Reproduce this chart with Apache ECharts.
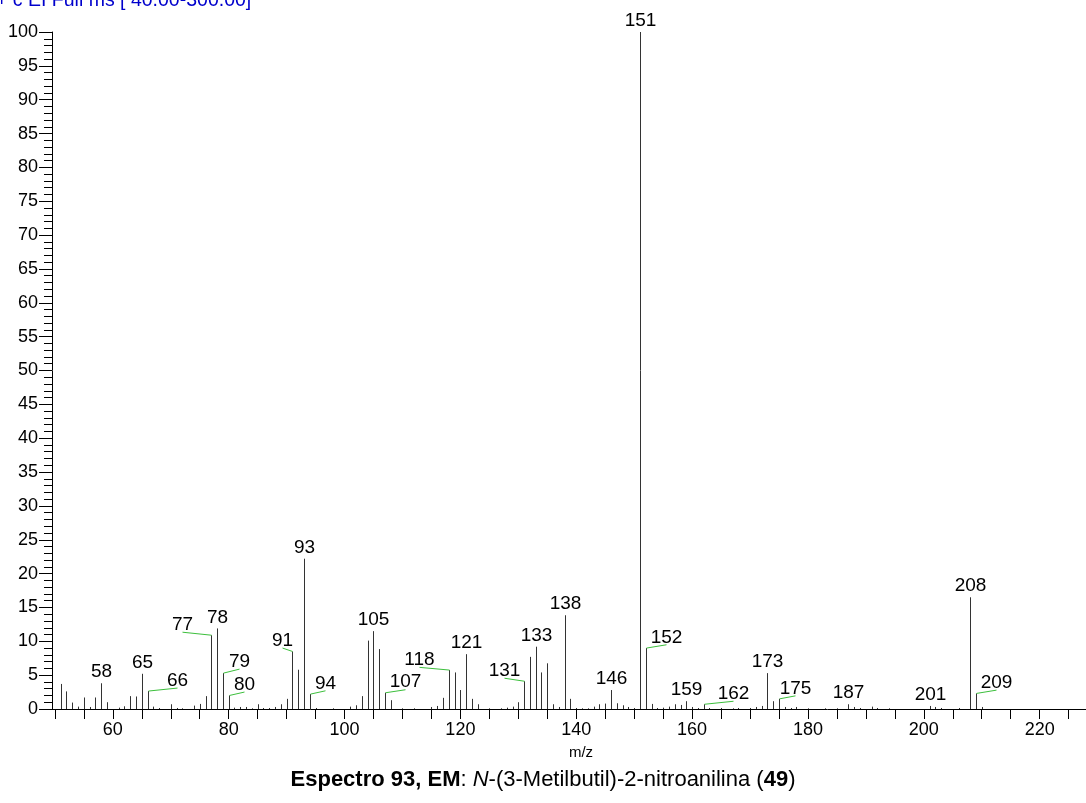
<!DOCTYPE html>
<html><head><meta charset="utf-8">
<script src="https://cdn.jsdelivr.net/npm/echarts@6/dist/echarts.min.js"></script>
<style>html,body{margin:0;padding:0;background:#fff;overflow:hidden}#c{width:1086px;height:803px}</style>
</head><body><div id="c"></div>
<script>
// m/z values and relative intensities (%)
const mzValues = [51,52,53,54,55,56,57,58,59,61,62,63,64,65,66,67,68,70,71,72,74,75,76,77,78,79,80,81,82,83,84,85,86,87,88,89,90,91,92,93,94,95,98,
  101,102,103,104,105,106,107,108,110,112,115,116,117,118,119,120,121,122,123,125,127,128,129,130,131,132,133,134,135,136,137,138,139,140,141,142,143,144,145,146,147,148,149,150,
  151,152,153,154,155,156,157,158,159,160,161,162,163,165,167,168,170,171,172,173,174,175,176,177,178,180,183,185,187,188,189,191,192,194,201,202,203,206,208,209,210];
const intensities = [3.7,2.6,0.95,0.35,1.7,0.3,1.7,3.8,1.0,0.2,0.4,1.9,1.85,5.2,2.65,0.35,0.15,0.7,0.15,0.1,0.5,0.75,1.9,10.9,11.9,5.3,2.0,0.2,0.3,0.3,0.1,0.7,0.15,0.15,0.3,0.7,1.5,8.5,5.8,22.2,2.2,0.15,0.1,
  0.35,0.55,1.9,10.1,11.5,8.85,2.4,1.3,0.1,0.1,0.3,0.45,1.65,5.75,5.4,2.8,8.1,1.5,0.7,0.1,0.1,0.2,0.35,1.0,4.1,7.7,9.2,5.4,6.75,0.7,0.3,13.85,1.5,0.15,0.1,0.1,0.35,0.7,0.8,2.8,0.85,0.55,0.3,0.15,
  100,9.0,0.75,0.15,0.2,0.35,0.7,0.6,1.15,0.3,0.15,0.7,0.15,0.15,0.1,0.15,0.15,0.3,0.45,5.3,1.15,1.5,0.3,0.15,0.3,0.1,0.1,0.1,0.7,0.3,0.15,0.35,0.15,0.1,0.45,0.3,0.15,0.15,16.5,2.3,0.3];
const labeledPeaks = [58,65,66,77,78,79,80,91,93,94,105,107,118,121,131,133,138,146,151,152,159,162,173,175,187,201,208,209];
const xTickValues = [50,55,60,65,70,75,80,85,90,95,100,105,110,115,120,125,130,135,140,145,150,155,160,165,170,175,180,185,190,195,200,205,210,215,220,225];
const xLabelValues = [60,80,100,120,140,160,180,200,220];

// label displacement (pixels) for labels drawn with a leader line
const leaderOffsets = {66:[29,-3],77:[-29,-3],79:[16,-4],80:[15,-3.4],91:[-10,-3.4],94:[15,-3.3],107:[20,-3],
  118:[-30,-2.7],131:[-20,-3],152:[20,-3.3],162:[29,-3],175:[16,-3],209:[20,-3.3]};

const FONT = '"Liberation Sans", Arial, sans-serif';
const barData = mzValues.map((m, i) => [m, intensities[i]]);
const labelData = labeledPeaks.map(m => [m, intensities[mzValues.indexOf(m)]]);

const chart = echarts.init(document.getElementById('c'), null, {renderer: 'canvas'});
chart.setOption({
  animation: false,
  backgroundColor: '#fff',
  grid: {left: 52, right: 0, top: 32, bottom: 94, containLabel: false},
  xAxis: {
    type: 'value', min: 49.5, max: 228,
    axisLine: {show: true, onZero: false, lineStyle: {color: '#000', width: 1}},
    axisTick: {show: true, customValues: xTickValues, length: 10, lineStyle: {color: '#000'}},
    axisLabel: {customValues: xLabelValues, fontSize: 18, color: '#000', margin: 12, fontFamily: FONT},
    splitLine: {show: false}
  },
  yAxis: {
    type: 'value', min: 0, max: 100, interval: 5,
    axisLine: {show: true, lineStyle: {color: '#000', width: 1}},
    axisTick: {show: true, length: 13, lineStyle: {color: '#000'}},
    minorTick: {show: true, splitNumber: 5, length: 8, lineStyle: {color: '#000'}},
    axisLabel: {fontSize: 18, color: '#000', margin: 14, fontFamily: FONT},
    splitLine: {show: false}
  },
  series: [
    {
      type: 'custom', data: barData, clip: false,
      renderItem: function (params, api) {
        const p0 = api.coord([api.value(0), 0]);
        const p1 = api.coord([api.value(0), api.value(1)]);
        const x = Math.round(p0[0]) + 0.5;
        return {type: 'line', shape: {x1: x, y1: p0[1], x2: x, y2: p1[1]}, style: {stroke: '#333', lineWidth: 1}};
      }
    },
    {
      type: 'custom', data: labelData, clip: false, z: 5,
      renderItem: function (params, api) {
        const m = api.value(0);
        const p = api.coord([m, api.value(1)]);
        const px = Math.round(p[0]) + 0.5;
        const off = leaderOffsets[m];
        if (off) {
          const ex = px + off[0], ey = p[1] + off[1];
          return {type: 'group', children: [
            {type: 'line', shape: {x1: px, y1: p[1], x2: ex, y2: ey}, style: {stroke: '#3cbf3c', lineWidth: 1}},
            {type: 'text', x: ex, y: ey + 2, style: {text: String(m), fontSize: 19, fontFamily: FONT, fill: '#000', align: 'center', verticalAlign: 'bottom'}}
          ]};
        }
        return {type: 'text', x: px, y: p[1] - 1.6, style: {text: String(m), fontSize: 19, fontFamily: FONT, fill: '#000', align: 'center', verticalAlign: 'bottom'}};
      }
    }
  ],
  graphic: [
    {type: 'text', left: -4, top: -9, style: {text: '+ c EI Full ms [ 40.00-300.00]', fontSize: 19.5, fontFamily: FONT, fill: '#0000cc'}},
    {type: 'text', x: 581, y: 753, style: {text: 'm/z', fontSize: 15, fontFamily: FONT, fill: '#000', align: 'center', verticalAlign: 'middle'}},
    {type: 'text', x: 543, y: 780, style: {
      text: '{b|Espectro 93, EM}: {i|N}-(3-Metilbutil)-2-nitroanilina ({b|49})',
      fontSize: 22, fontFamily: FONT, fill: '#000', align: 'center', verticalAlign: 'middle',
      rich: {b: {fontWeight: 'bold', fontSize: 22, fontFamily: FONT}, i: {fontStyle: 'italic', fontSize: 22, fontFamily: FONT}}
    }}
  ]
});
</script></body></html>
